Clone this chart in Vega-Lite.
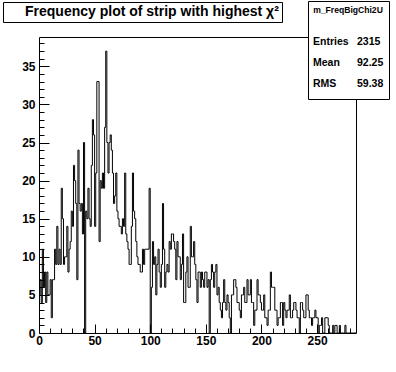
{
  "$schema": "https://vega.github.io/schema/vega-lite/v6.json",
  "width": 317,
  "height": 296,
  "autosize": "none",
  "padding": {"left": 39, "top": 37, "right": 40, "bottom": 39},
  "background": "white",
  "config": {
    "view": {"stroke": "black", "strokeWidth": 1},
    "axis": {
      "domain": false,
      "grid": false,
      "labelFont": "Liberation Sans",
      "labelFontWeight": "bold",
      "labelFontSize": 12,
      "labelColor": "black",
      "tickColor": "black",
      "tickWidth": 1,
      "title": null
    }
  },
  "resolve": {"scale": {"color": "independent"}},
  "layer": [
    {
      "data": {"values": [
        {"x":0,"n":5},{"x":1,"n":7},{"x":2,"n":4},{"x":3,"n":11},{"x":4,"n":6},{"x":5,"n":8},{"x":6,"n":4},{"x":7,"n":8},{"x":8,"n":5},{"x":9,"n":5},
        {"x":10,"n":7},{"x":11,"n":2},{"x":12,"n":7},{"x":13,"n":7},{"x":14,"n":11},{"x":15,"n":9},{"x":16,"n":14},{"x":17,"n":9},{"x":18,"n":11},{"x":19,"n":9},
        {"x":20,"n":19},{"x":21,"n":15},{"x":22,"n":9},{"x":23,"n":10},{"x":24,"n":10},{"x":25,"n":14},{"x":26,"n":8},{"x":27,"n":11},{"x":28,"n":12},{"x":29,"n":16},
        {"x":30,"n":14},{"x":31,"n":22},{"x":32,"n":20},{"x":33,"n":17},{"x":34,"n":7},{"x":35,"n":24},{"x":36,"n":17},{"x":37,"n":16},{"x":38,"n":17},{"x":39,"n":13},
        {"x":40,"n":25},{"x":41,"n":0},{"x":42,"n":16},{"x":43,"n":15},{"x":44,"n":19},{"x":45,"n":15},{"x":46,"n":14},{"x":47,"n":22},{"x":48,"n":28},{"x":49,"n":26},
        {"x":50,"n":14},{"x":51,"n":21},{"x":52,"n":33},{"x":53,"n":33},{"x":54,"n":12},{"x":55,"n":20},{"x":56,"n":19},{"x":57,"n":21},{"x":58,"n":19},{"x":59,"n":27},
        {"x":60,"n":37},{"x":61,"n":25},{"x":62,"n":21},{"x":63,"n":25},{"x":64,"n":26},{"x":65,"n":24},{"x":66,"n":21},{"x":67,"n":17},{"x":68,"n":18},{"x":69,"n":21},
        {"x":70,"n":16},{"x":71,"n":15},{"x":72,"n":14},{"x":73,"n":14},{"x":74,"n":13},{"x":75,"n":15},{"x":76,"n":14},{"x":77,"n":21},{"x":78,"n":13},{"x":79,"n":12},
        {"x":80,"n":11},{"x":81,"n":9},{"x":82,"n":9},{"x":83,"n":14},{"x":84,"n":21},{"x":85,"n":16},{"x":86,"n":15},{"x":87,"n":12},{"x":88,"n":10},{"x":89,"n":9},
        {"x":90,"n":9},{"x":91,"n":8},{"x":92,"n":8},{"x":93,"n":11},{"x":94,"n":9},{"x":95,"n":11},{"x":96,"n":11},{"x":97,"n":11},{"x":98,"n":11},{"x":99,"n":19},
        {"x":100,"n":0},{"x":101,"n":6},{"x":102,"n":12},{"x":103,"n":9},{"x":104,"n":10},{"x":105,"n":5},{"x":106,"n":9},{"x":107,"n":11},{"x":108,"n":8},{"x":109,"n":6},
        {"x":110,"n":9},{"x":111,"n":17},{"x":112,"n":11},{"x":113,"n":6},{"x":114,"n":8},{"x":115,"n":9},{"x":116,"n":8},{"x":117,"n":12},{"x":118,"n":11},{"x":119,"n":13},
        {"x":120,"n":13},{"x":121,"n":12},{"x":122,"n":11},{"x":123,"n":7},{"x":124,"n":12},{"x":125,"n":10},{"x":126,"n":10},{"x":127,"n":7},{"x":128,"n":9},{"x":129,"n":13},
        {"x":130,"n":4},{"x":131,"n":4},{"x":132,"n":8},{"x":133,"n":10},{"x":134,"n":6},{"x":135,"n":6},{"x":136,"n":14},{"x":137,"n":10},{"x":138,"n":10},{"x":139,"n":12},
        {"x":140,"n":9},{"x":141,"n":7},{"x":142,"n":4},{"x":143,"n":8},{"x":144,"n":8},{"x":145,"n":6},{"x":146,"n":8},{"x":147,"n":7},{"x":148,"n":6},{"x":149,"n":8},
        {"x":150,"n":8},{"x":151,"n":6},{"x":152,"n":7},{"x":153,"n":0},{"x":154,"n":7},{"x":155,"n":9},{"x":156,"n":8},{"x":157,"n":6},{"x":158,"n":8},{"x":159,"n":9},
        {"x":160,"n":5},{"x":161,"n":6},{"x":162,"n":4},{"x":163,"n":3},{"x":164,"n":2},{"x":165,"n":4},{"x":166,"n":7},{"x":167,"n":4},{"x":168,"n":3},{"x":169,"n":5},
        {"x":170,"n":4},{"x":171,"n":2},{"x":172,"n":0},{"x":173,"n":5},{"x":174,"n":5},{"x":175,"n":7},{"x":176,"n":7},{"x":177,"n":6},{"x":178,"n":4},{"x":179,"n":4},
        {"x":180,"n":3},{"x":181,"n":2},{"x":182,"n":5},{"x":183,"n":5},{"x":184,"n":6},{"x":185,"n":4},{"x":186,"n":4},{"x":187,"n":7},{"x":188,"n":5},{"x":189,"n":5},
        {"x":190,"n":7},{"x":191,"n":4},{"x":192,"n":4},{"x":193,"n":1},{"x":194,"n":3},{"x":195,"n":3},{"x":196,"n":7},{"x":197,"n":5},{"x":198,"n":5},{"x":199,"n":4},
        {"x":200,"n":3},{"x":201,"n":3},{"x":202,"n":5},{"x":203,"n":2},{"x":204,"n":2},{"x":205,"n":1},{"x":206,"n":3},{"x":207,"n":3},{"x":208,"n":8},{"x":209,"n":6},
        {"x":210,"n":6},{"x":211,"n":6},{"x":212,"n":3},{"x":213,"n":3},{"x":214,"n":1},{"x":215,"n":2},{"x":216,"n":2},{"x":217,"n":4},{"x":218,"n":4},{"x":219,"n":1},
        {"x":220,"n":4},{"x":221,"n":3},{"x":222,"n":2},{"x":223,"n":3},{"x":224,"n":3},{"x":225,"n":5},{"x":226,"n":2},{"x":227,"n":2},{"x":228,"n":3},{"x":229,"n":4},
        {"x":230,"n":4},{"x":231,"n":3},{"x":232,"n":2},{"x":233,"n":2},{"x":234,"n":0},{"x":235,"n":4},{"x":236,"n":4},{"x":237,"n":3},{"x":238,"n":2},{"x":239,"n":2},
        {"x":240,"n":5},{"x":241,"n":5},{"x":242,"n":3},{"x":243,"n":2},{"x":244,"n":2},{"x":245,"n":1},{"x":246,"n":2},{"x":247,"n":2},{"x":248,"n":3},{"x":249,"n":2},
        {"x":250,"n":2},{"x":251,"n":0},{"x":252,"n":1},{"x":253,"n":1},{"x":254,"n":2},{"x":255,"n":0},{"x":256,"n":0},{"x":257,"n":2},{"x":258,"n":2},{"x":259,"n":2},
        {"x":260,"n":1},{"x":261,"n":0},{"x":262,"n":0},{"x":263,"n":0},{"x":264,"n":1},{"x":265,"n":0},{"x":266,"n":1},{"x":267,"n":1},{"x":268,"n":0},{"x":269,"n":0},
        {"x":270,"n":1},{"x":271,"n":0},{"x":272,"n":0},{"x":273,"n":0},{"x":274,"n":0},{"x":275,"n":1},{"x":276,"n":0},{"x":277,"n":0},{"x":278,"n":0},{"x":279,"n":0},
        {"x":280,"n":0},{"x":281,"n":0},{"x":282,"n":0},{"x":283,"n":0},{"x":284,"n":0},{"x":285,"n":0}
      ]},
      "mark": {"type": "line", "interpolate": "step-after", "color": "black", "strokeWidth": 1},
      "encoding": {
        "x": {
          "field": "x", "type": "quantitative",
          "scale": {"domain": [0, 285], "nice": false, "zero": false},
          "axis": {
            "values": [0,10,20,30,40,50,60,70,80,90,100,110,120,130,140,150,160,170,180,190,200,210,220,230,240,250,260,270,280],
            "labelExpr": "datum.value % 50 === 0 ? datum.label : ''",
            "tickSize": {"condition": {"test": "datum.value % 50 === 0", "value": -9}, "value": -5},
            "labelPadding": 11,
            "labelFlush": false,
            "labelOverlap": false
          }
        },
        "y": {
          "field": "n", "type": "quantitative",
          "scale": {"domain": [0, 38.85], "nice": false},
          "axis": {
            "values": [0,1,2,3,4,5,6,7,8,9,10,11,12,13,14,15,16,17,18,19,20,21,22,23,24,25,26,27,28,29,30,31,32,33,34,35,36,37,38],
            "labelExpr": "datum.value % 5 === 0 ? datum.label : ''",
            "tickSize": {"condition": {"test": "datum.value % 5 === 0", "value": -10}, "value": -5},
            "labelPadding": 14,
            "labelOverlap": false
          }
        }
      }
    },
    {
      "data": {"values": [{"s": "Entries"}, {"s": "Mean"}, {"s": "RMS"}, {"s": "2315"}, {"s": "92.25"}, {"s": "59.38"}]},
      "mark": {"type": "text", "text": ""},
      "encoding": {
        "color": {
          "field": "s", "type": "nominal",
          "scale": {"domain": ["Entries", "Mean", "RMS", "2315", "92.25", "59.38"], "range": ["black"]},
          "legend": {
            "orient": "none", "legendX": 269, "legendY": -36,
            "title": "m_FreqBigChi2U",
            "titleFont": "Liberation Sans", "titleFontSize": 8.6, "titleFontWeight": "bold", "titleColor": "black",
            "titleAnchor": "middle", "titlePadding": 17,
            "columns": 2, "columnPadding": 8, "rowPadding": 1,
            "padding": 5, "strokeColor": "black", "fillColor": "white", "cornerRadius": 0,
            "symbolType": "M0,-1L0,1", "symbolSize": 400, "symbolStrokeWidth": 0, "symbolOpacity": 0,
            "labelOffset": -20,
            "labelFont": "Liberation Sans", "labelFontSize": 10.5, "labelFontWeight": "bold", "labelColor": "black"
          }
        }
      }
    },
    {
      "data": {"values": [{"t": "Frequency plot of strip with highest χ²\u00a0\u00a0\u00a0"}]},
      "mark": {"type": "text", "text": ""},
      "encoding": {
        "color": {
          "field": "t", "type": "nominal",
          "scale": {"range": ["black"]},
          "legend": {
            "orient": "none", "legendX": -36, "legendY": -35,
            "title": null,
            "padding": 3, "strokeColor": "black", "fillColor": "white", "cornerRadius": 0,
            "symbolSize": 0, "symbolStrokeWidth": 0, "symbolOpacity": 0,
            "labelOffset": 5, "labelLimit": 400,
            "labelFont": "Liberation Sans", "labelFontSize": 14, "labelFontWeight": "bold", "labelColor": "black"
          }
        }
      }
    }
  ]
}
